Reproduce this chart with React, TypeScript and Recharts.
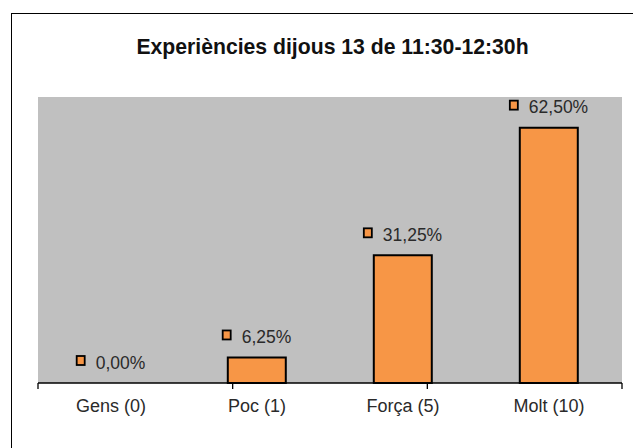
import { ComposedChart, Bar, Line, XAxis, YAxis, CartesianGrid } from "recharts";

const categories = ["Gens (0)", "Poc (1)", "Força (5)", "Molt (10)"];
const percents = [0, 6.25, 31.25, 62.5];
const boundaryTicks = [0, 1, 2, 3, 4];
const yDomain = [0, 70];

const title = "Experiències dijous 13 de 11:30-12:30h";
const FONT = "'Liberation Sans', Arial, sans-serif";
const ORANGE = "#f79646";
const PLOT_BG = "#c0c0c0";

const data = categories.map((name, i) => ({ name, value: percents[i] }));

const fmt = (v: number) => v.toFixed(2).replace(".", ",") + "%";

// rough Arial widths, used to center square + text over the bar
const charW = (c: string) => (c === "," ? 0.278 : c === "%" ? 0.889 : 0.556);
const textWidth = (s: string, size: number) =>
  s.split("").reduce((a, c) => a + charW(c), 0) * size;

// the value labels are drawn as the dots of an invisible line so the 0 bar gets one too
function ValueDot(props: any) {
  const { cx, cy, value } = props;
  if (cx == null || cy == null) return null;
  const size = 17.5;
  const label = fmt(value);
  const tw = textWidth(label, size);
  const total = 9 + 10 + tw;
  const left = cx - total / 2;
  return (
    <g>
      <rect x={left} y={cy - 27} width={8} height={9} fill={ORANGE} stroke="#000" strokeWidth={1.8} />
      <text x={left + 19} y={cy - 14.5} fontSize={size} fontFamily={FONT} fill="#2a2a2a">
        {label}
      </text>
    </g>
  );
}

function CatTick(props: any) {
  const { x, y, payload } = props;
  return (
    <text x={x} y={y + 20} textAnchor="middle" fontSize={18} fontFamily={FONT} fill="#2a2a2a">
      {payload.value}
    </text>
  );
}

const NoLabel = () => <g />;

export default function App() {
  return (
    <div
      style={{
        position: "fixed",
        left: 0,
        top: 0,
        width: 633,
        height: 448,
        overflow: "hidden",
        background: "#fff",
      }}
    >
      <div
        style={{
          position: "absolute",
          left: 11,
          top: 13,
          width: 700,
          height: 500,
          border: "1.5px solid #000",
        }}
      />
      <div
        style={{
          position: "absolute",
          left: 0,
          top: 35,
          width: 665,
          textAlign: "center",
          fontFamily: FONT,
          fontWeight: "bold",
          fontSize: 21.2,
          color: "#111",
          whiteSpace: "nowrap",
        }}
      >
        {title}
      </div>
      <div style={{ position: "absolute", left: 0, top: 0 }}>
        <ComposedChart
          width={633}
          height={448}
          data={data}
          margin={{ top: 97, right: 11, left: 38, bottom: 34 }}
          barCategoryGap="30%"
        >
          <CartesianGrid xAxisId="b" horizontal={false} vertical={false} fill={PLOT_BG} stroke="none" />
          <XAxis
            xAxisId="b"
            dataKey="name"
            axisLine={false}
            tickLine={false}
            height={30}
            tick={<CatTick />}
            interval={0}
          />
          <XAxis
            xAxisId="a"
            type="number"
            domain={[0, categories.length]}
            ticks={boundaryTicks}
            interval={0}
            tick={<NoLabel />}
            tickSize={6}
            height={1}
            axisLine={{ stroke: "#000", strokeWidth: 1.3 }}
            tickLine={{ stroke: "#000", strokeWidth: 1.3 }}
          />
          <YAxis hide domain={yDomain} />
          <Bar
            xAxisId="b"
            dataKey="value"
            fill={ORANGE}
            stroke="#000"
            strokeWidth={2}
            isAnimationActive={false}
          />
          <Line
            xAxisId="b"
            dataKey="value"
            stroke="none"
            dot={<ValueDot />}
            activeDot={false}
            isAnimationActive={false}
          />
        </ComposedChart>
      </div>
    </div>
  );
}
